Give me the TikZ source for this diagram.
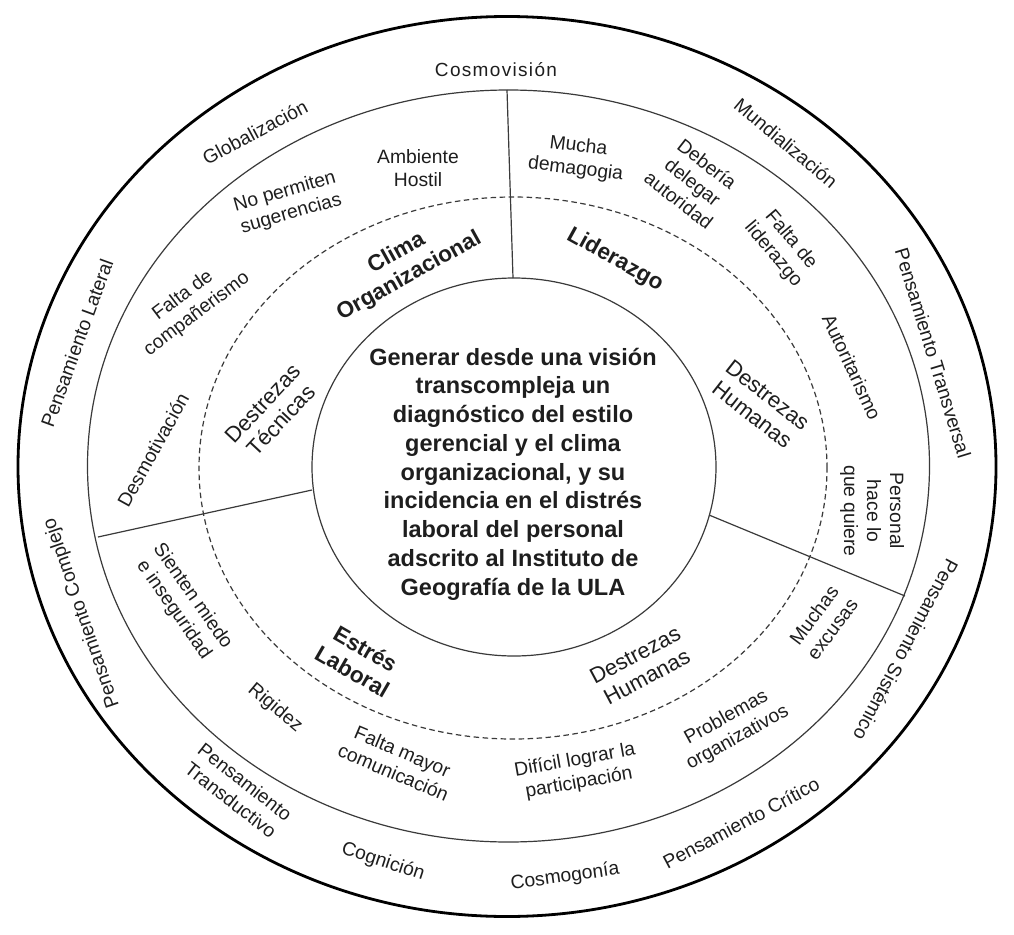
\documentclass[tikz,border=0pt]{standalone}
\usepackage{fontspec}
\setmainfont{Liberation Sans}
\definecolor{txt}{HTML}{1E1E1E}
\definecolor{ln}{HTML}{3A3A3A}
\tikzset{
  lbl/.style={text=txt, align=center, inner sep=0pt, font=\fontsize{19.3}{23}\selectfont},
  blbl/.style={lbl, font=\fontsize{22.5}{26}\selectfont\bfseries},
  dlbl/.style={lbl, font=\fontsize{22}{25}\selectfont},
  clbl/.style={lbl, font=\fontsize{23.5}{28.75}\selectfont\bfseries},
  ring/.style={draw=ln, line width=1.2pt},
  outerring/.style={draw=black, line width=2.8pt},
  dashring/.style={draw=ln, line width=1.2pt, dash pattern=on 5.5pt off 3.5pt},
  divider/.style={draw=ln, line width=1.2pt}
}
\begin{document}
\begin{tikzpicture}[x=1pt,y=-1pt]
\fill[white] (0,0) rectangle (1014,934);
\useasboundingbox (0,0) rectangle (1014,934);
% rings
\draw[outerring] (507,466.5) ellipse [x radius=489pt, y radius=450pt];
\draw[ring] (508.5,466) ellipse [x radius=421pt, y radius=376pt];
\draw[dashring] (513,468) ellipse [x radius=314pt, y radius=271pt];
\draw[ring] (514,467) ellipse [x radius=202pt, y radius=189pt];
% dividers
\coordinate (dA1) at (513,278); \coordinate (dA2) at (507,90);
\coordinate (dB1) at (312,490); \coordinate (dB2) at (98,537);
\coordinate (dC1) at (709,515); \coordinate (dC2) at (905,596);
\draw[divider] (dA1) -- (dA2);
\draw[divider] (dB1) -- (dB2);
\draw[divider] (dC1) -- (dC2);
% centre
\node[clbl] (centre) at (513,474) {Generar desde una visión\\transcompleja un\\diagnóstico del estilo\\gerencial y el clima\\organizacional, y su\\incidencia en el distrés\\laboral del personal\\adscrito al Instituto de\\Geografía de la ULA};
% outer band
\node[lbl, font=\fontsize{19}{23}\selectfont\addfontfeature{LetterSpace=7}] (cosmo) at (496,70) {Cosmovisión};
\node[lbl, rotate=28] (glob) at (255,132) {Globalización};
\node[lbl, rotate=-40] (mund) at (786,143) {Mundialización};
\node[lbl, rotate=-73] (ptransv) at (933,353) {Pensamiento Transversal};
\node[lbl, rotate=-118] (psist) at (906,650) {Pensamiento Sistémico};
\node[lbl, rotate=28] (pcrit) at (741,823) {Pensamiento Crítico};
\node[lbl, rotate=8] (cosmog) at (565,877) {Cosmogonía};
\node[lbl, rotate=-18] (cogn) at (383,862) {Cognición};
\node[lbl, rotate=-38] (ptransd) at (238,791) {Pensamiento\\Transductivo};
\node[lbl, rotate=109] (pcompl) at (82,613) {Pensamiento Complejo};
\node[lbl, rotate=70] (plat) at (77,343) {Pensamiento Lateral};
% Clima organizacional sector
\node[lbl] (ambiente) at (418,168) {Ambiente\\Hostil};
\node[lbl, rotate=16] (nopermiten) at (288,203) {No permiten\\sugerencias};
\node[lbl, rotate=37] (faltacomp) at (190,305) {Falta de\\compañerismo};
\node[lbl, rotate=61] (desmot) at (153,450) {Desmotivación};
\node[blbl, rotate=29] (clima) at (403,265) {Clima\\Organizacional};
\node[dlbl, rotate=47] (destec) at (272,412) {Destrezas\\Técnicas};
% Liderazgo sector
\node[lbl, rotate=-7] (mucha) at (577,158) {Mucha\\demagogia};
\node[lbl, rotate=-38] (deberia) at (693,182) {Debería\\delegar\\autoridad};
\node[lbl, rotate=-50] (faltalid) at (782,247) {Falta de\\liderazgo};
\node[lbl, rotate=-65] (autor) at (852,367) {Autoritarismo};
\node[blbl, rotate=-29] (lider) at (615,260) {Liderazgo};
\node[dlbl, rotate=-38] (desthumA) at (760,405) {Destrezas\\Humanas};
\node[lbl, rotate=-90] (personal) at (872,511) {Personal\\hace lo\\que quiere};
% Destrezas humanas sector
\node[lbl, rotate=53] (muchas) at (823,622) {Muchas\\excusas};
\node[lbl, rotate=29] (problemas) at (732,728) {Problemas\\organizativos};
\node[lbl, rotate=10] (dificil) at (577,772) {Difícil lograr la\\participación};
\node[dlbl, rotate=28] (desthumB) at (641,666) {Destrezas\\Humanas};
% Estres laboral sector
\node[lbl, rotate=-55] (sienten) at (183,603) {Sienten miedo\\e inseguridad};
\node[lbl, rotate=-40] (rigidez) at (275,708) {Rigidez};
\node[lbl, rotate=-23] (faltamayor) at (398,762) {Falta mayor\\comunicación};
\node[blbl, rotate=-30] (estres) at (359,660) {Estrés\\Laboral};
\end{tikzpicture}
\end{document}
